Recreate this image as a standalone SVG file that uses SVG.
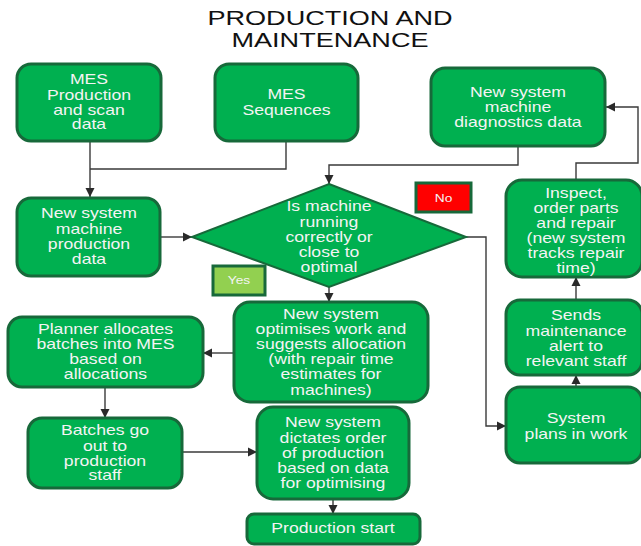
<svg xmlns="http://www.w3.org/2000/svg" width="641" height="546" viewBox="0 0 641 546">
  <defs>
    <style>
      .box { fill: #00b050; stroke: #17693a; stroke-width: 3; }
      .dia { fill: #00b050; stroke: #17693a; stroke-width: 2; }
      .t { font-family: "Liberation Sans", Arial, sans-serif; font-size: 14px; fill: #f4f4f4; text-anchor: middle; }
      .tag { font-family: "Liberation Sans", Arial, sans-serif; font-size: 11px; fill: #f4f4f4; text-anchor: middle; }
      .title { font-family: "Liberation Sans", Arial, sans-serif; font-size: 21px; fill: #111; text-anchor: middle; }
      .ln { fill: none; stroke: #3a3a3a; stroke-width: 1.4; }
    </style>
    <marker id="arr" markerUnits="userSpaceOnUse" markerWidth="10" markerHeight="10" refX="9" refY="5" orient="auto">
      <path d="M0,0.5 L9,5 L0,9.5 z" fill="#2a2a2a"/>
    </marker>
  </defs>

  <rect width="641" height="546" fill="#ffffff"/>

  <!-- heading -->
  <g id="title">
    <text class="title" transform="translate(330,0) scale(1.29,1)"><tspan x="0" y="25">PRODUCTION AND</tspan><tspan x="0" y="47">MAINTENANCE</tspan></text>
  </g>

  <!-- connectors -->
  <g id="connectors">
    <path class="ln" d="M90,141 V197" marker-end="url(#arr)"/>
    <path class="ln" d="M286,141 V169 H90"/>
    <path class="ln" d="M518,146 V165 H329 V184" marker-end="url(#arr)"/>
    <path class="ln" d="M160,237 H192" marker-end="url(#arr)"/>
    <path class="ln" d="M466,237 H486 V426 H506" marker-end="url(#arr)"/>
    <path class="ln" d="M329,287 V302" marker-end="url(#arr)"/>
    <path class="ln" d="M234,353 H203" marker-end="url(#arr)"/>
    <path class="ln" d="M105,387 V418" marker-end="url(#arr)"/>
    <path class="ln" d="M182,452 H257" marker-end="url(#arr)"/>
    <path class="ln" d="M333,499 V514" marker-end="url(#arr)"/>
    <path class="ln" d="M576,387 V375" marker-end="url(#arr)"/>
    <path class="ln" d="M576,300 V277" marker-end="url(#arr)"/>
    <path class="ln" d="M576,180 V163 H638 V107 H606" marker-end="url(#arr)"/>
  </g>

  <g id="mes-production">
    <rect class="box" x="17" y="64" width="144" height="77" rx="14"/>
    <text class="t" transform="translate(89,0) scale(1.26,1)"><tspan x="0" y="84">MES</tspan><tspan x="0" y="100">Production</tspan><tspan x="0" y="115">and scan</tspan><tspan x="0" y="129">data</tspan></text>
  </g>

  <g id="mes-sequences">
    <rect class="box" x="215" y="64" width="143" height="77" rx="14"/>
    <text class="t" transform="translate(286.5,0) scale(1.26,1)"><tspan x="0" y="99">MES</tspan><tspan x="0" y="115">Sequences</tspan></text>
  </g>

  <g id="diagnostics">
    <rect class="box" x="431" y="68" width="174" height="78" rx="14"/>
    <text class="t" transform="translate(518,0) scale(1.26,1)"><tspan x="0" y="97">New system</tspan><tspan x="0" y="112">machine</tspan><tspan x="0" y="127">diagnostics data</tspan></text>
  </g>

  <g id="production-data">
    <rect class="box" x="17" y="198" width="143" height="78" rx="14"/>
    <text class="t" transform="translate(89,0) scale(1.26,1)"><tspan x="0" y="218">New system</tspan><tspan x="0" y="234">machine</tspan><tspan x="0" y="249">production</tspan><tspan x="0" y="264">data</tspan></text>
  </g>

  <g id="decision">
    <polygon class="dia" points="329,184 466,237 329,287 192,237"/>
    <text class="t" transform="translate(329,0) scale(1.26,1)"><tspan x="0" y="211">Is machine</tspan><tspan x="0" y="227">running</tspan><tspan x="0" y="242">correctly or</tspan><tspan x="0" y="257">close to</tspan><tspan x="0" y="272">optimal</tspan></text>
  </g>

  <g id="label-no">
    <rect x="416" y="183" width="55" height="29" fill="#ff0000" stroke="#17693a" stroke-width="3"/>
    <text class="tag" transform="translate(443.5,0) scale(1.25,1)"><tspan x="0" y="202">No</tspan></text>
  </g>

  <g id="label-yes">
    <rect x="213" y="266" width="52" height="29" fill="#92d050" stroke="#17693a" stroke-width="3"/>
    <text class="tag" transform="translate(239,0) scale(1.25,1)"><tspan x="0" y="284">Yes</tspan></text>
  </g>

  <g id="optimise">
    <rect class="box" x="234" y="302" width="194" height="100" rx="16"/>
    <text class="t" transform="translate(331,0) scale(1.26,1)"><tspan x="0" y="319">New system</tspan><tspan x="0" y="334">optimises work and</tspan><tspan x="0" y="349">suggests allocation</tspan><tspan x="0" y="364">(with repair time</tspan><tspan x="0" y="379">estimates for</tspan><tspan x="0" y="395">machines)</tspan></text>
  </g>

  <g id="planner">
    <rect class="box" x="8" y="317" width="195" height="70" rx="14"/>
    <text class="t" transform="translate(105.5,0) scale(1.26,1)"><tspan x="0" y="334">Planner allocates</tspan><tspan x="0" y="349">batches into MES</tspan><tspan x="0" y="364">based on</tspan><tspan x="0" y="379">allocations</tspan></text>
  </g>

  <g id="batches">
    <rect class="box" x="28" y="418" width="154" height="70" rx="14"/>
    <text class="t" transform="translate(105,0) scale(1.26,1)"><tspan x="0" y="435">Batches go</tspan><tspan x="0" y="451">out to</tspan><tspan x="0" y="466">production</tspan><tspan x="0" y="480">staff</tspan></text>
  </g>

  <g id="dictates">
    <rect class="box" x="257" y="407" width="152" height="92" rx="16"/>
    <text class="t" transform="translate(333,0) scale(1.26,1)"><tspan x="0" y="427">New system</tspan><tspan x="0" y="443">dictates order</tspan><tspan x="0" y="458">of production</tspan><tspan x="0" y="473">based on data</tspan><tspan x="0" y="488">for optimising</tspan></text>
  </g>

  <g id="production-start">
    <rect class="box" x="247" y="514" width="173" height="30" rx="7"/>
    <text class="t" transform="translate(333,0) scale(1.26,1)"><tspan x="0" y="533">Production start</tspan></text>
  </g>

  <g id="inspect">
    <rect class="box" x="506" y="180" width="136" height="97" rx="16"/>
    <text class="t" transform="translate(576,0) scale(1.26,1)"><tspan x="0" y="198">Inspect,</tspan><tspan x="0" y="213">order parts</tspan><tspan x="0" y="228">and repair</tspan><tspan x="0" y="243">(new system</tspan><tspan x="0" y="258">tracks repair</tspan><tspan x="0" y="273">time)</tspan></text>
  </g>

  <g id="alert">
    <rect class="box" x="506" y="300" width="136" height="75" rx="14"/>
    <text class="t" transform="translate(576,0) scale(1.26,1)"><tspan x="0" y="320">Sends</tspan><tspan x="0" y="336">maintenance</tspan><tspan x="0" y="351">alert to</tspan><tspan x="0" y="366">relevant staff</tspan></text>
  </g>

  <g id="plans-work">
    <rect class="box" x="506" y="387" width="136" height="76" rx="14"/>
    <text class="t" transform="translate(576,0) scale(1.26,1)"><tspan x="0" y="423">System</tspan><tspan x="0" y="439">plans in work</tspan></text>
  </g>
</svg>
